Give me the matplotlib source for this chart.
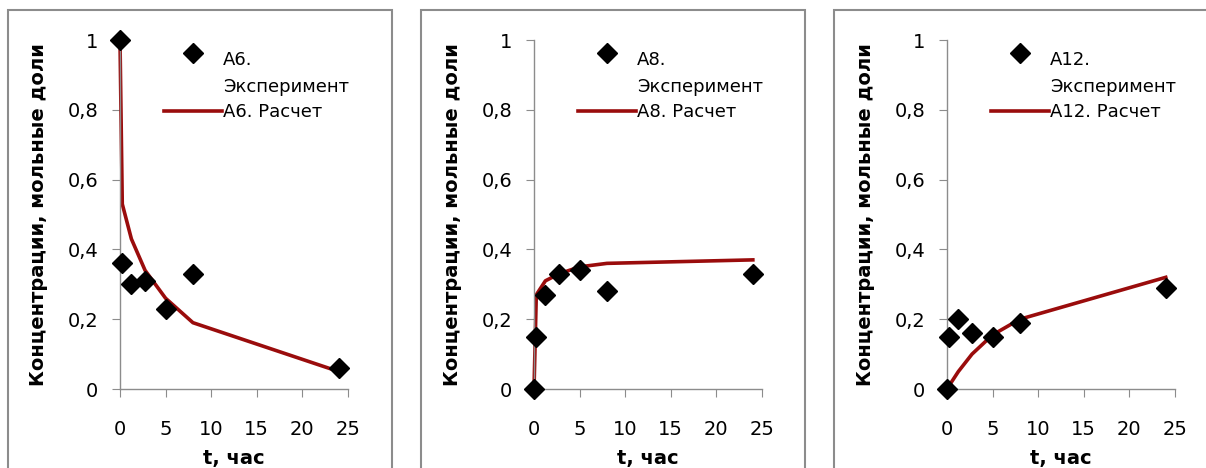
import matplotlib.pyplot as plt
from matplotlib.patches import Rectangle
from matplotlib.ticker import FuncFormatter
from matplotlib.legend_handler import HandlerLine2D

# ==========================================
# DATA
# ==========================================

t = [0, 0.25, 1.25, 2.75, 5, 8, 24]

a6_exp = [1.0, 0.36, 0.30, 0.31, 0.23, 0.33, 0.06]
a6_calc = [1.0, 0.53, 0.43, 0.34, 0.26, 0.19, 0.05]

a8_exp = [0.0, 0.15, 0.27, 0.33, 0.34, 0.28, 0.33]
a8_calc = [0.0, 0.27, 0.31, 0.33, 0.35, 0.36, 0.37]

a12_exp = [0.0, 0.15, 0.20, 0.16, 0.15, 0.19, 0.29]
a12_calc = [0.0, 0.01, 0.05, 0.10, 0.155, 0.20, 0.32]

names = ["A6", "A8", "A12"]
x_ticks = [0, 5, 10, 15, 20, 25]
y_ticks = [0, 0.2, 0.4, 0.6, 0.8, 1]

# ==========================================
# STYLE
# ==========================================

plt.rcParams["font.family"] = ["DejaVu Sans"]

line_color = "#9a0c0c"
axis_gray = "#8c8c8c"


class HandlerTopLine(HandlerLine2D):
    # put the marker next to the first line of a two-line label
    def create_artists(self, legend, orig_handle, xdescent, ydescent,
                       width, height, fontsize, trans):
        return super().create_artists(legend, orig_handle, xdescent,
                                      ydescent - 2.3 * fontsize,
                                      width, height, fontsize, trans)


fig = plt.figure(figsize=(12.06, 4.68), dpi=100)

panels = [
    (a6_exp, a6_calc, 0.0995, (0.0066, 0.325)),
    (a8_exp, a8_calc, 0.4428, (0.349, 0.6675)),
    (a12_exp, a12_calc, 0.7852, (0.6915, 1.2)),
]

for name, (exp, calc, left, frame) in zip(names, panels):

    # chart-area frame, like the Excel chart box
    fig.patches.append(Rectangle(
        (frame[0], -0.05), frame[1] - frame[0], 0.05 + 0.9786,
        transform=fig.transFigure, fill=False,
        edgecolor=axis_gray, linewidth=1.5
    ))

    ax = fig.add_axes([left, 0.1688, 0.189, 0.7457])

    calc_line, = ax.plot(
        t, calc,
        color=line_color,
        linewidth=2.6,
        solid_joinstyle="round",
        clip_on=False,
        zorder=2
    )

    exp_pts, = ax.plot(
        t, exp,
        linestyle="none",
        marker="D",
        markersize=10.5,
        color="black",
        clip_on=False,
        zorder=3
    )

    ax.set_xlim(0, 25)
    ax.set_ylim(0, 1)
    ax.set_xticks(x_ticks)
    ax.set_yticks(y_ticks)
    ax.yaxis.set_major_formatter(
        FuncFormatter(lambda v, p: ("%g" % v).replace(".", ","))
    )

    for side in ["top", "right"]:
        ax.spines[side].set_visible(False)
    for side in ["left", "bottom"]:
        ax.spines[side].set_color(axis_gray)
        ax.spines[side].set_linewidth(1)

    ax.tick_params(axis="both", direction="out", length=5.5,
                   color=axis_gray, labelsize=14, labelcolor="black")
    ax.tick_params(axis="x", pad=17)
    ax.tick_params(axis="y", pad=10)

    ax.set_xlabel("t, час", fontsize=14, fontweight="bold", labelpad=7)
    ax.set_ylabel("Концентрации, мольные доли", fontsize=14,
                  fontweight="bold", labelpad=14)

    leg = ax.legend(
        [exp_pts, calc_line],
        [name + ".\nЭксперимент", name + ". Расчет"],
        handler_map={exp_pts: HandlerTopLine()},
        loc="upper left",
        bbox_to_anchor=(0.162, 0.99),
        frameon=False,
        fontsize=13,
        numpoints=1,
        handlelength=3.2,
        handletextpad=0.05,
        labelspacing=0.4,
        borderaxespad=0,
    )
    for txt in leg.get_texts():
        txt.set_linespacing(1.65)

fig.savefig("out.png", dpi=100)
